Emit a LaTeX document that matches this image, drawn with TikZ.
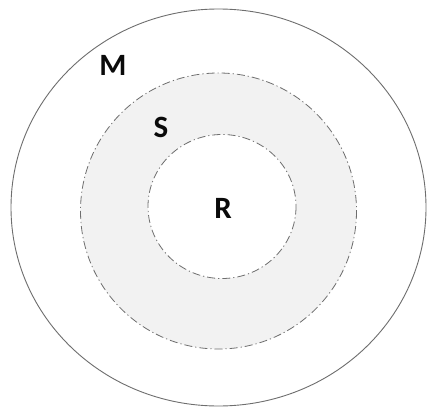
\documentclass[tikz,border=0pt]{standalone}
\usepackage{fontspec}
\setmainfont{Carlito}
\usepackage{xcolor}
\usepackage{tikz}
\definecolor{RingLine}{HTML}{6E6E6E}
\definecolor{RingFill}{HTML}{F2F2F2}
\definecolor{RingText}{HTML}{0A0A0A}
\tikzset{
  ringdash/.style={draw=RingLine,line width=.8pt,dash pattern=on 8pt off 3pt on 1.2pt off 3pt},
  ringlabel/.style={font=\fontsize{31}{32}\selectfont\bfseries,text=RingText,inner sep=0pt}
}

\begin{document}
\begin{tikzpicture}[x=1pt,y=-1pt]
\path[use as bounding box] (0,0) rectangle (427,406);
\fill[white] (0,0) rectangle (427,406);
\draw[RingLine,line width=.9pt] (218.5,207.5) ellipse [x radius=207.5,y radius=198.5];
\path[ringdash,fill=RingFill] (218.5,211) circle [radius=138];
\path[ringdash,fill=white] (222,206.5) ellipse [x radius=74,y radius=72];
\node[ringlabel] (labM) at (113,65) {M};
\node[ringlabel] (labS) at (161,127) {S};
\node[ringlabel] (labR) at (223,208) {R};
\end{tikzpicture}
\end{document}
